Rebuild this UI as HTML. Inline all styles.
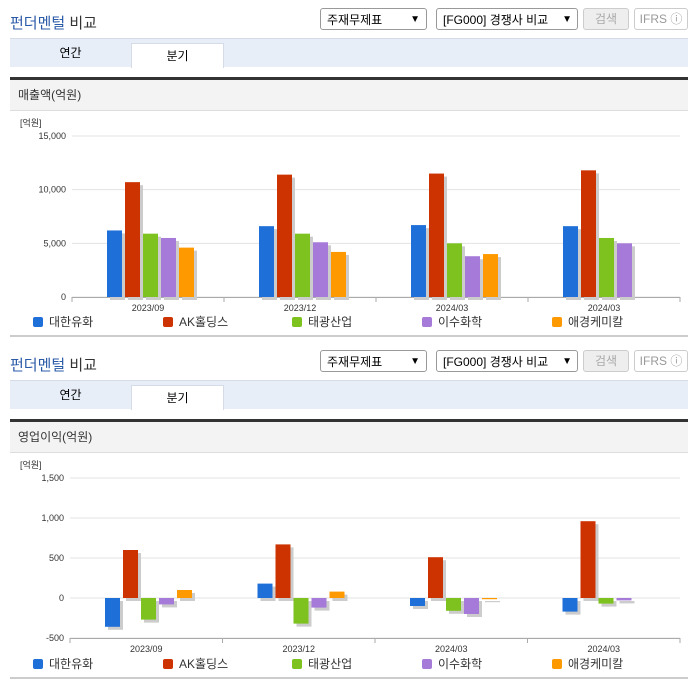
<!DOCTYPE html>
<html><head><meta charset="utf-8"><style>
body{margin:0;width:696px;height:684px;background:#fff;font-family:"Liberation Sans","Noto Sans CJK KR",sans-serif;position:relative;overflow:hidden}
.a{position:absolute}
.title{font-size:15px;color:#333;font-weight:normal}
.title b{color:#2b5aa8;font-weight:normal}
.sel{border:1px solid #999;border-radius:3px;height:22px;font-size:12px;line-height:22px;padding-left:6px;box-sizing:border-box;color:#000;background:#fff}
.btn{border:1px solid #ccc;border-radius:3px;height:22px;font-size:12px;line-height:20px;text-align:center;box-sizing:border-box;color:#aaa}
.tabs{background:#e8eef7;border-top:1px solid #d5dce8;height:28px;left:10px;width:678px}
.tab{font-size:12px;text-align:center;line-height:24px}
.hdr{background:#f3f3f3;border-top:3px solid #333;left:10px;width:678px;height:30px;font-size:12px;line-height:30px;color:#333;text-indent:8px;border-bottom:1px solid #ddd}
.leg{font-size:12px;color:#333}
.sw{display:inline-block;width:10px;height:10px;border-radius:2px;vertical-align:-1px;margin-right:6px}
</style></head><body>
<div id="root"></div>
<script>
const categories=["2023/09","2023/12","2024/03","2024/03"];
const series=["대한유화","AK홀딩스","태광산업","이수화학","애경케미칼"];
const colors=["#1f6fd8","#cc3300","#7dc21e","#a57ad8","#ff9900"];
const salesVals=[[6200,6600,6700,6600],[10700,11400,11500,11800],[5900,5900,5000,5500],[5500,5100,3800,5000],[4600,4200,4000,null]];
const opVals=[[-360,180,-100,-170],[600,670,510,960],[-270,-320,-160,-70],[-80,-120,-200,-30],[100,80,-15,null]];
const salesTicks=[0,5000,10000,15000];
const opTicks=[-500,0,500,1000,1500];
const root=document.getElementById('root');
function el(tag,attrs,parent,ns){const e=ns?document.createElementNS('http://www.w3.org/2000/svg',tag):document.createElement(tag);for(const k in attrs)e.setAttribute(k,attrs[k]);if(parent)parent.appendChild(e);return e;}
function section(y0,metric,vals,ticks,yTop,yBot,x0,x1){
  const h=`
  <div class="a title" style="left:10px;top:${y0+12}px"><b>펀더멘털</b> 비교</div>
  <div class="a sel" style="left:320px;top:${y0+8}px;width:107px">주재무제표<span style="position:absolute;right:6px;font-size:10px">&#9660;</span></div>
  <div class="a sel" style="left:436px;top:${y0+8}px;width:142px">[FG000] 경쟁사 비교<span style="position:absolute;right:5px;font-size:10px">&#9660;</span></div>
  <div class="a btn" style="left:583px;top:${y0+8}px;width:46px;background:#eee">검색</div>
  <div class="a btn" style="left:634px;top:${y0+8}px;width:54px;color:#999">IFRS ⓘ</div>
  <div class="a tabs" style="top:${y0+38}px">
   <div class="a tab" style="left:0;top:0;width:121px;height:28px;line-height:28px">연간</div>
   <div class="a tab" style="left:121px;top:4px;width:91px;height:24px;background:#fff;border:1px solid #d5dce8;border-bottom:none">분기</div>
  </div>
  <div class="a hdr" style="top:${y0+77}px">${metric}</div>
  <div class="a" style="left:10px;top:${y0+335}px;width:678px;height:2px;background:#ccc"></div>`;
  root.insertAdjacentHTML('beforeend',h);
  const svg=el('svg',{width:696,height:240,style:`position:absolute;left:0;top:${y0+110}px`},root,1);
  
  const min=ticks[0],max=ticks[ticks.length-1];
  const Y=v=>yTop+(max-v)/(max-min)*(yBot-yTop)-y0-110;
  const cw=(x1-x0)/categories.length;
  const u=el('text',{x:20,y:yTop-y0-110-10,'font-size':9,fill:'#333'},svg,1);u.textContent='[억원]';
  
  ticks.forEach(t=>{el('line',{x1:x0,x2:x1,y1:Y(t),y2:Y(t),stroke:'#e3e3e3'},svg,1);
    const tx=el('text',{x:x0-6,y:Y(t)+3,'font-size':9,fill:'#333','text-anchor':'end'},svg,1);tx.textContent=t.toLocaleString('en-US');
    });
  el('line',{x1:x0,x2:x1,y1:Y(min)+0.5,y2:Y(min)+0.5,stroke:'#aaa'},svg,1);
  categories.forEach((c,i)=>{
    el('line',{x1:x0+cw*i,x2:x0+cw*i,y1:Y(min),y2:Y(min)+5,stroke:'#aaa'},svg,1);
    const t=el('text',{x:x0+cw*(i+0.5),y:Y(min)+14,'font-size':9,fill:'#333','text-anchor':'middle'},svg,1);t.textContent=c;
    
    series.forEach((s,j)=>{const v=vals[j][i];if(v==null)return;
      const bx=x0+cw*i+35+j*18,ya=Y(Math.max(v,0)),yb=Y(Math.min(v,0));
      el('rect',{x:bx+3,y:ya+3,width:15,height:Math.max(yb-ya,1),fill:'#ccc'},svg,1);
      const r=el('rect',{x:bx,y:ya,width:15,height:Math.max(yb-ya,1),fill:colors[j]},svg,1);
      });
  });
  el('line',{x1:x1,x2:x1,y1:Y(min),y2:Y(min)+5,stroke:'#aaa'},svg,1);
  const lx=[33,163,292,422,552];
  series.forEach((s,j)=>{const d=document.createElement('div');d.className='a leg';d.style.left=lx[j]+'px';d.style.top=(y0+313)+'px';
    d.innerHTML=`<span class="sw" style="background:${colors[j]}"></span>${s}`;
    root.appendChild(d);});
}
section(0,'매출액(억원)',salesVals,salesTicks,136,297,72,680);
section(342,'영업이익(억원)',opVals,opTicks,478,638,70,680);
</script>
</body></html>
